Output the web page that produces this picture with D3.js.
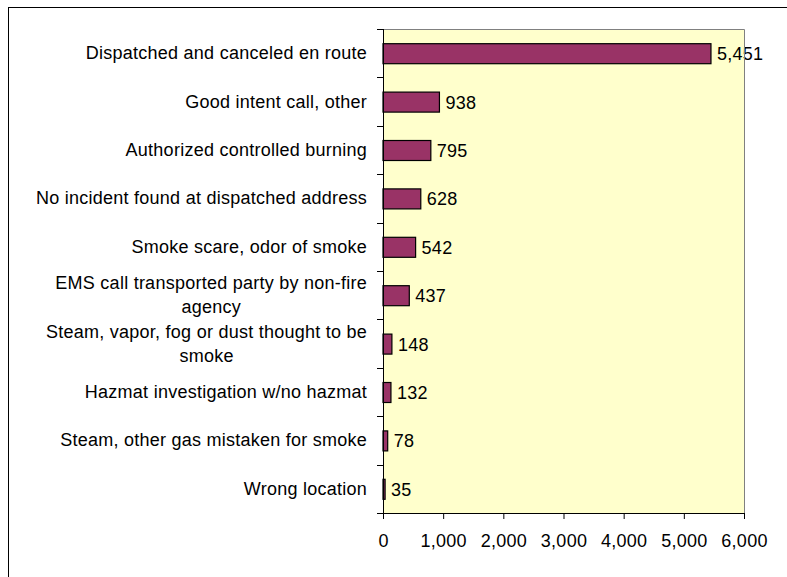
<!DOCTYPE html>
<html>
<head>
<meta charset="utf-8">
<script src="https://cdn.jsdelivr.net/npm/d3@7/dist/d3.min.js"></script>
<style>
  html, body { margin: 0; padding: 0; background: #fff; }
  svg { display: block; }
  text { font-family: "Liberation Sans", Arial, sans-serif; fill: #000; letter-spacing: 0.25px; }
</style>
</head>
<body>
<svg id="chart" width="787" height="577"></svg>
<script>
const categories = [
  "Dispatched and canceled en route",
  "Good intent call, other",
  "Authorized controlled burning",
  "No incident found at dispatched address",
  "Smoke scare, odor of smoke",
  "EMS call transported party by non-fire\nagency",
  "Steam, vapor, fog or dust thought to be\nsmoke",
  "Hazmat investigation w/no hazmat",
  "Steam, other gas mistaken for smoke",
  "Wrong location"
];
const values = [5451, 938, 795, 628, 542, 437, 148, 132, 78, 35];
const xTicks = [0, 1000, 2000, 3000, 4000, 5000, 6000];

const svg = d3.select("#chart");
const W = 787, H = 577;
const plot = { left: 383, right: 744, top: 29, bottom: 513 };
const fontSize = 18;

// outer frame
svg.append("rect")
  .attr("x", 8.5).attr("y", 7.5)
  .attr("width", W + 20).attr("height", H + 20)
  .attr("fill", "#fff").attr("stroke", "#000").attr("stroke-width", 1);

const x = d3.scaleLinear().domain([0, 6000]).range([plot.left, plot.right]);
const band = d3.scaleBand().domain(categories).range([plot.top, plot.bottom]);

// plot background
svg.append("rect")
  .attr("x", plot.left).attr("y", plot.top)
  .attr("width", plot.right - plot.left).attr("height", plot.bottom - plot.top)
  .attr("fill", "#FFFFCC").attr("stroke", "none");

// bars
svg.append("g").selectAll("rect")
  .data(categories)
  .join("rect")
  .attr("x", x(0))
  .attr("y", (d) => band(d) + band.bandwidth() / 2 - 9.5)
  .attr("width", (d, i) => Math.max(0, x(values[i]) - x(0)))
  .attr("height", 20)
  .attr("fill", "#993366")
  .attr("stroke", "#000")
  .attr("stroke-width", 1.2);

// value labels
svg.append("g").selectAll("text")
  .data(categories)
  .join("text")
  .attr("x", (d, i) => x(values[i]) + 6)
  .attr("y", (d) => band(d) + band.bandwidth() / 2 + 1)
  .attr("dominant-baseline", "central")
  .attr("font-size", fontSize)
  .text((d, i) => d3.format(",")(values[i]));

// plot border top/right (gray)
svg.append("path")
  .attr("d", `M${plot.left},${plot.top + 0.5}H${plot.right + 0.5}V${plot.bottom}`)
  .attr("fill", "none").attr("stroke", "#808080").attr("stroke-width", 1);

// y axis tick marks at band boundaries
const boundaries = categories.map((d) => band(d)).concat([plot.bottom]);
svg.append("g").selectAll("line")
  .data(boundaries)
  .join("line")
  .attr("x1", plot.left - 6).attr("x2", plot.left)
  .attr("y1", (d) => Math.round(d) + 0.5).attr("y2", (d) => Math.round(d) + 0.5)
  .attr("stroke", "#000");
svg.append("line")
  .attr("x1", plot.left + 0.5).attr("x2", plot.left + 0.5)
  .attr("y1", plot.top).attr("y2", plot.bottom)
  .attr("stroke", "#000");

// category labels
const labels = svg.append("g").selectAll("text")
  .data(categories)
  .join("text")
  .attr("font-size", fontSize)
  .attr("text-anchor", "end");
labels.each(function (d) {
  const lines = d.split("\n");
  const cy = band(d) + band.bandwidth() / 2;
  const lh = 24;
  const t = d3.select(this);
  lines.forEach((ln, k) => {
    const yy = cy + (k - (lines.length - 1) / 2) * lh;
    t.append("tspan")
      .attr("x", 367)
      .attr("y", yy)
      .attr("dominant-baseline", "central")
      .text(ln);
  });
});
// center continuation lines under the first line
labels.each(function (d) {
  const tsp = d3.select(this).selectAll("tspan").nodes();
  if (tsp.length > 1) {
    const w0 = tsp[0].getComputedTextLength();
    const center = 367 - w0 / 2;
    for (let k = 1; k < tsp.length; k++) {
      d3.select(tsp[k]).attr("x", center).attr("text-anchor", "middle");
    }
  }
});

// x axis
const xAxis = d3.axisBottom(x).tickValues(xTicks).tickSize(6).tickPadding(15).tickFormat(d3.format(","));
const xg = svg.append("g").attr("transform", `translate(0,${plot.bottom})`).call(xAxis);
xg.select(".domain").attr("d", `M${plot.left - 6},0.5H${plot.right}`).attr("stroke", "#000");
xg.selectAll(".tick line").attr("stroke", "#000");
xg.selectAll(".tick text").attr("font-size", fontSize).attr("font-family", "Liberation Sans, Arial, sans-serif").attr("fill", "#000");
</script>
</body>
</html>
